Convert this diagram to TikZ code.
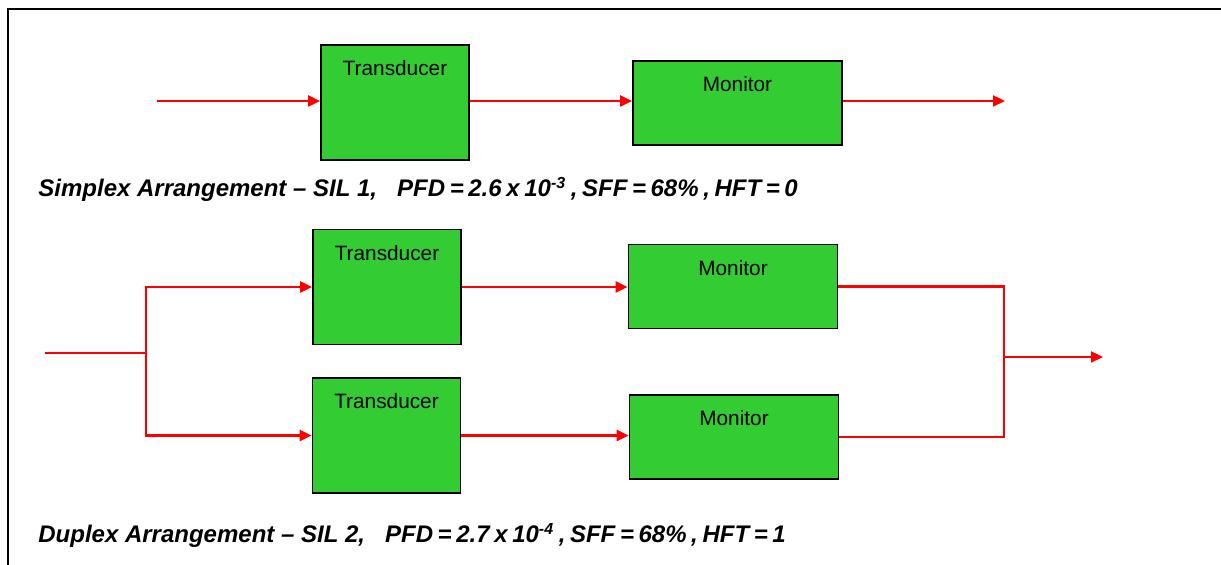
\documentclass[tikz,border=0pt]{standalone}
\usepackage{fontspec}
\setmainfont{Liberation Sans}
\usetikzlibrary{arrows.meta}
\definecolor{blkgreen}{HTML}{33CC33}
\newcommand{\tightsp}{\spaceskip=2.3pt\relax}
\tikzset{
  blk/.style={draw=black, line width=0.9pt, fill=blkgreen, inner sep=0pt},
  trans/.style={blk, minimum width=74pt, minimum height=57.5pt,
    label={[anchor=north, inner sep=0pt, yshift=-8pt]north:Transducer}},
  mon/.style={blk, minimum width=104.5pt, minimum height=42pt,
    label={[anchor=north, inner sep=0pt, yshift=-8pt]north:Monitor}},
  sig/.style={draw=red, line width=1.1pt},
  sigarrow/.style={sig, -{Triangle[length=6pt, width=5.5pt]}},
  caption/.style={anchor=base west, inner sep=0pt,
    font=\fontsize{12}{14}\selectfont\bfseries\itshape}
}
\begin{document}
\begin{tikzpicture}[x=0.5pt, y=-0.5pt, font=\fontsize{10.4}{12}\selectfont]
  \useasboundingbox (0,0) rectangle (1221,565);
  % frame
  \draw[line width=1.2pt] (8,565) -- (8,9) -- (1221,9);

  % simplex
  \node[trans] (s_tr) at (395,102.5) {};
  \node[mon] (s_mon) at (737.5,103) {};
  \coordinate (s_in) at (157,101);
  \coordinate (s_out) at (1005,101);
  \draw[sigarrow] (s_in) to (s_in -| s_tr.west);
  \draw[sigarrow] (s_in -| s_tr.east) to (s_in -| s_mon.west);
  \draw[sigarrow] (s_in -| s_mon.east) to (s_out);
  \node[caption] (s_cap) at (38,197)
    {Simplex Arrangement – SIL 1,\ \ \ {\tightsp PFD = 2.6 x 10\textsuperscript{-3} , SFF = 68\% , HFT = 0}};

  % duplex
  \node[trans] (d_tr1) at (387,287) {};
  \node[mon] (d_mon1) at (733,286.5) {};
  \node[trans] (d_tr2) at (386.5,435.5) {};
  \node[mon] (d_mon2) at (734,437) {};
  \coordinate (d_in) at (45,353);
  \coordinate (d_split) at (146,353);
  \coordinate (d_join) at (1004,357);
  \coordinate (d_out) at (1103,357);
  \draw[sig] (d_in) to (d_split);
  \draw[sigarrow] (d_split) |- (d_tr1.west);
  \draw[sigarrow] (d_split) |- (d_tr2.west);
  \draw[sigarrow] (d_tr1.east) to (d_tr1.east -| d_mon1.west);
  \draw[sigarrow] (d_tr2.east) to (d_tr2.east -| d_mon2.west);
  \draw[sig] (d_mon1.east) -| (d_join);
  \draw[sig] (d_mon2.east) -| (d_join);
  \draw[sigarrow] (d_join) to (d_out);
  \node[caption] (d_cap) at (38,543)
    {Duplex Arrangement – SIL 2,\ \ \ {\tightsp PFD = 2.7 x 10\textsuperscript{-4} , SFF = 68\% , HFT = 1}};
\end{tikzpicture}
\end{document}
